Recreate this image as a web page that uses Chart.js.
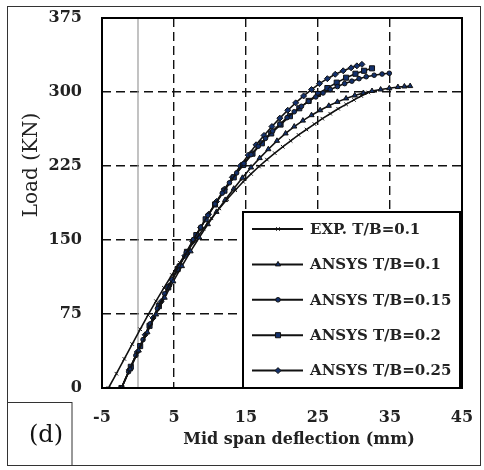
<!DOCTYPE html>
<html lang="en">
<head>
<meta charset="UTF-8">
<title>Load vs mid span deflection</title>
<script src="https://cdn.jsdelivr.net/npm/chart.js"></script>
<style>
  html, body { margin: 0; padding: 0; background: #fff; }
</style>
</head>
<body>
<canvas id="loadChart" width="484" height="470"></canvas>
<script>
// axis ticks
const xTicks = [-5, 5, 15, 25, 35, 45];
const yTicks = [0, 75, 150, 225, 300, 375];

// series (deflection mm, load KN)
const expX = [-4.1, -3.0, -1.9, -0.8, 0.3, 1.4, 2.5, 3.6, 4.7, 5.8, 6.9, 8.0, 9.1, 10.2, 11.3, 12.4, 13.5, 14.6, 15.7, 16.8, 17.9, 19.0, 20.1, 21.2, 22.3, 23.4, 24.5, 25.6, 26.7, 27.8, 28.9, 30.0, 31.0, 32.0];
const expY = [0, 14.5, 29.5, 44.5, 59.5, 74, 88, 101.5, 114.5, 127, 139, 150.5, 161.5, 172, 182, 191.5, 200.5, 209, 217, 224.5, 231.5, 238, 244.5, 250.5, 256.5, 262, 267.5, 273, 278, 283, 287.5, 292, 296, 299.5];

const tb10X = [-2.3, -1.1, 0.1, 1.3, 2.5, 3.7, 4.9, 6.1, 7.3, 8.5, 9.7, 10.9, 12.1, 13.3, 14.5, 15.7, 16.9, 18.1, 19.3, 20.5, 21.7, 22.9, 24.1, 25.3, 26.5, 27.7, 28.9, 30.1, 31.3, 32.5, 33.7, 34.9, 36.1, 37.0, 37.8];
const tb10Y = [0, 19, 38, 56.5, 74.5, 91.5, 108, 123.5, 138.5, 152.5, 166, 178.5, 190.5, 202, 213, 223.5, 233, 242, 250.5, 258, 265, 271, 276.5, 281.5, 286, 290, 293.5, 296.5, 299, 301, 302.5, 303.8, 305, 305.6, 306];

const tb15X = [-2.3, -1.3, -0.3, 0.7, 1.7, 2.7, 3.7, 4.7, 5.7, 6.7, 7.7, 8.7, 9.7, 10.7, 11.7, 12.7, 13.7, 14.7, 15.7, 16.7, 17.7, 18.7, 19.7, 20.7, 21.7, 22.7, 23.7, 24.7, 25.7, 26.7, 27.7, 28.7, 29.7, 30.7, 31.7, 32.8, 33.9, 34.9];
const tb15Y = [0, 16.5, 33, 49, 65, 80.5, 95.5, 110, 124, 137.5, 150.5, 163, 175, 186.5, 197.5, 208, 218, 227.5, 236.5, 245, 253, 260.5, 267.5, 274, 280, 285.5, 290.5, 295, 299, 302.5, 305.5, 308.5, 311, 313.5, 315.5, 317, 318.2, 319];

const tb20X = [-2.3, -1.0, 0.3, 1.6, 2.9, 4.2, 5.5, 6.8, 8.1, 9.4, 10.7, 12.0, 13.3, 14.6, 15.9, 17.2, 18.5, 19.8, 21.1, 22.4, 23.7, 25.0, 26.3, 27.6, 28.9, 30.2, 31.4, 32.5];
const tb20Y = [0, 21.5, 42.5, 63, 83, 102, 120.5, 138, 155, 171, 186, 200, 213.5, 226, 237.5, 248, 258, 267, 275.5, 283.5, 291, 298, 304, 309.5, 314.5, 318.5, 321.5, 324];

const tb25X = [-2.3, -1.2, -0.1, 1.0, 2.1, 3.2, 4.3, 5.4, 6.5, 7.6, 8.7, 9.8, 10.9, 12.0, 13.1, 14.2, 15.3, 16.4, 17.5, 18.6, 19.7, 20.8, 21.9, 23.0, 24.1, 25.2, 26.3, 27.4, 28.5, 29.6, 30.4, 31.1];
const tb25Y = [0, 18.5, 36.5, 54, 71, 87.5, 103.5, 119, 134, 148.5, 162.5, 176, 189, 201.5, 213.5, 225, 236, 246.5, 256, 265, 273.5, 281.5, 289, 296, 302.5, 308.5, 313.5, 318, 321.5, 324.5, 326.5, 328];

const seriesLabels = ['EXP. T/B=0.1', 'ANSYS T/B=0.1', 'ANSYS T/B=0.15', 'ANSYS T/B=0.2', 'ANSYS T/B=0.25'];

const navy = '#13306b';
function pts(xs, ys) { return xs.map((x, i) => ({ x: x, y: ys[i] })); }

function series(label, xs, ys, style, radius) {
    return {
        label: label,
        data: pts(xs, ys),
        showLine: true,
        borderColor: '#111',
        borderWidth: 1.6,
        pointStyle: style,
        pointRadius: radius,
        pointBorderWidth: 1,
        pointBorderColor: '#111',
        pointBackgroundColor: navy,
        tension: 0
    };
}

const datasets = [
    series(seriesLabels[0], expX, expY, 'crossRot', 2.5),
    series(seriesLabels[1], tb10X, tb10Y, 'triangle', 3),
    series(seriesLabels[2], tb15X, tb15Y, 'circle', 2.3),
    series(seriesLabels[3], tb20X, tb20Y, 'rect', 3.6),
    series(seriesLabels[4], tb25X, tb25Y, 'rectRot', 3)
];

const serif = "'DejaVu Serif', serif";

function marker(ctx, ds, x, y) {
    ctx.save();
    ctx.fillStyle = ds.pointBackgroundColor;
    ctx.strokeStyle = ds.pointBorderColor;
    ctx.lineWidth = ds.pointBorderWidth;
    Chart.helpers.drawPoint(ctx, { pointStyle: ds.pointStyle, radius: ds.pointRadius, rotation: 0, borderWidth: 1 }, x, y);
    ctx.restore();
}

// no automatic label padding, the layout padding below fixes the plot box
function noPad(s) {
    s.paddingTop = 0; s.paddingBottom = 0; s.paddingLeft = 0; s.paddingRight = 0;
}

const decor = {
    id: 'decor',
    beforeDatasetsDraw(chart) {
        const { ctx, chartArea } = chart;
        const px = chart.scales.x.getPixelForValue(0);
        ctx.save();
        ctx.strokeStyle = '#9a9a9a';
        ctx.lineWidth = 1.2;
        ctx.beginPath();
        ctx.moveTo(px, chartArea.top);
        ctx.lineTo(px, chartArea.bottom);
        ctx.stroke();
        ctx.restore();
    },
    afterDraw(chart) {
        const { ctx, chartArea: a } = chart;
        ctx.save();
        // outer frame
        ctx.strokeStyle = '#333';
        ctx.lineWidth = 1;
        ctx.strokeRect(7.5, 6.5, 473, 459);
        // plot frame
        ctx.strokeStyle = '#000';
        ctx.lineWidth = 2;
        ctx.strokeRect(a.left, a.top, a.right - a.left, a.bottom - a.top);

        // axis titles
        ctx.fillStyle = '#222';
        ctx.textAlign = 'center';
        ctx.textBaseline = 'middle';
        ctx.font = 'bold 16px ' + serif;
        ctx.fillText('Mid span deflection (mm)', 299, 440);
        ctx.save();
        ctx.translate(32, 165);
        ctx.rotate(-Math.PI / 2);
        ctx.font = '20px ' + serif;
        ctx.fillText('Load (KN)', 0, 0);
        ctx.restore();

        // (d) box
        ctx.fillStyle = '#fff';
        ctx.fillRect(7, 402, 65, 64);
        ctx.strokeStyle = '#333';
        ctx.lineWidth = 1;
        ctx.strokeRect(7.5, 402.5, 64.5, 63);
        ctx.fillStyle = '#111';
        ctx.font = '24px ' + serif;
        ctx.fillText('(d)', 46, 436);

        // legend
        const lx = a.right - 219, ly = a.bottom - 176;
        ctx.fillStyle = '#fff';
        ctx.fillRect(lx, ly, 217, 176);
        ctx.strokeStyle = '#000';
        ctx.lineWidth = 2;
        ctx.strokeRect(lx, ly, 217, 176);
        ctx.textAlign = 'left';
        ctx.font = 'bold 15px ' + serif;
        chart.data.datasets.forEach((ds, i) => {
            const y = ly + 17 + i * 35.4;
            ctx.strokeStyle = '#111';
            ctx.lineWidth = 2;
            ctx.beginPath();
            ctx.moveTo(lx + 9, y);
            ctx.lineTo(lx + 60, y);
            ctx.stroke();
            marker(ctx, ds, lx + 35, y);
            ctx.fillStyle = '#222';
            ctx.fillText(ds.label, lx + 67, y + 1);
        });
        ctx.restore();
    }
};

const tickFont = { family: serif, size: 16, weight: 'bold' };

const chart = new Chart(document.getElementById('loadChart'), {
    type: 'scatter',
    data: { datasets: datasets },
    options: {
        responsive: false,
        animation: false,
        layout: { padding: { top: 18, right: 22, left: 0, bottom: 0 } },
        plugins: { legend: { display: false }, tooltip: { enabled: false } },
        scales: {
            x: {
                type: 'linear',
                min: -5,
                max: 45,
                afterBuildTicks: s => { s.ticks = xTicks.map(v => ({ value: v })); },
                afterFit: s => { s.height = 82; noPad(s); },
                grid: { color: '#111', lineWidth: 1.4, drawTicks: false, borderDash: [9, 5] },
                border: { display: false, dash: [9, 5] },
                ticks: { padding: 20, font: tickFont, color: '#222', maxRotation: 0 }
            },
            y: {
                type: 'linear',
                min: 0,
                max: 375,
                afterBuildTicks: s => { s.ticks = yTicks.map(v => ({ value: v })); },
                afterFit: s => { s.width = 102; noPad(s); },
                grid: { color: '#111', lineWidth: 1.4, drawTicks: false, borderDash: [9, 5] },
                border: { display: false, dash: [9, 5] },
                ticks: { padding: 20, font: tickFont, color: '#222' }
            }
        }
    },
    plugins: [decor]
});
</script>
</body>
</html>
